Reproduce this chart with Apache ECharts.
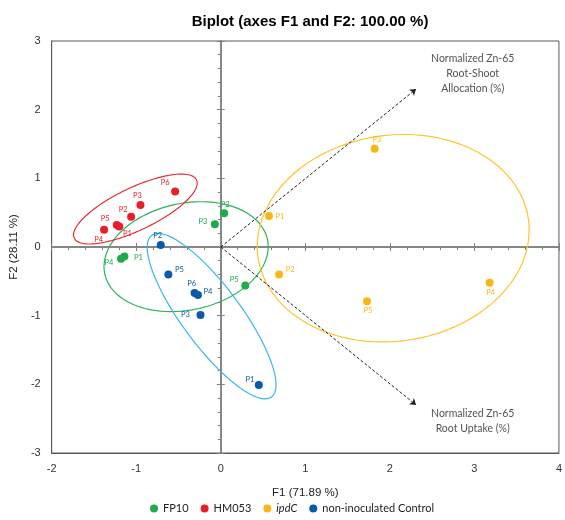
<!DOCTYPE html>
<html><head><meta charset="utf-8">
<script src="https://cdn.jsdelivr.net/npm/echarts@6/dist/echarts.min.js"></script>
<style>html,body{margin:0;padding:0;background:#fff}#c{width:565px;height:520px}</style>
</head><body><div id="c"></div>
<script>
// ---- data ----
const groups = ['FP10', 'HM053', 'ipdC', 'non-inoculated Control'];
// observations: [F1, F2, label]
const fp10 = [[-1.14, -0.14, 'P1'], [0.04, 0.49, 'P2'], [-0.07, 0.33, 'P3'], [-1.18, -0.17, 'P4'], [0.29, -0.56, 'P5']];
const hm053 = [[-1.20, 0.30, 'P1'], [-1.06, 0.44, 'P2'], [-0.95, 0.61, 'P3'], [-1.23, 0.32, 'P4'], [-1.38, 0.25, 'P5'], [-0.54, 0.81, 'P6']];
const ipdc = [[0.57, 0.45, 'P1'], [0.69, -0.40, 'P2'], [1.82, 1.43, 'P3'], [3.18, -0.52, 'P4'], [1.73, -0.79, 'P5']];
const control = [[0.45, -2.01, 'P1'], [-0.71, 0.03, 'P2'], [-0.24, -0.99, 'P3'], [-0.27, -0.70, 'P4'], [-0.62, -0.40, 'P5'], [-0.31, -0.67, 'P6']];
// confidence ellipses: [centerF1, centerF2, halfWidthF1, halfHeightF2, phaseDeg]
const ellFp10 = [-0.41, -0.141, 0.971, 0.80, 79.5];
const ellHm053 = [-1.01, 0.553, 0.732, 0.509, 42];
const ellIpdc = [2.04, 0.128, 1.608, 1.511, 85.5];
const ellControl = [-0.108, -1.007, 0.762, 1.205, 146.2];
// variable vectors (loadings)
const varNames = ['Normalized Zn-65\nRoot-Shoot\nAllocation (%)', 'Normalized Zn-65\nRoot Uptake (%)'];
const varVectors = [[2.31, 2.30], [2.31, -2.30]];
// axis ticks
const xTicks = { min: -2, max: 4, interval: 1 };
const yTicks = { min: -3, max: 3, interval: 1 };

// ---- styling (separate from data) ----
const colors = ['#1eab4b', '#e91f27', '#fdb515', '#0b5aa9'];
const ellColors = ['#2eb35b', '#ea2a33', '#fec42e', '#3cb5ea'];
const labelOffsets = [
  [[14, 1], [1, -9], [-12, -3], [-12, 4], [-11, -6]],
  [[8, 7], [-8, -7], [-3, -10], [-18, 15], [1, -11], [-10, -9]],
  [[11, 0], [11, -5], [2, -9], [1, 10], [1, 9]],
  [[-9, -5], [-3, -9], [-15, 0], [10, -3], [11, -5], [-3, -9]]
];
const varLabelAnchors = [[2.98, 2.53], [2.98, -2.53]];

const obs = [fp10, hm053, ipdc, control];
const ells = [ellFp10, ellHm053, ellIpdc, ellControl];

function ellipsePath(e) {
  const pts = [];
  for (let d = 0; d <= 360; d += 3) {
    const t = d * Math.PI / 180, p = e[4] * Math.PI / 180;
    pts.push([e[0] + e[2] * Math.cos(t), e[1] + e[3] * Math.cos(t + p)]);
  }
  return pts;
}

const FONT = 'Liberation Sans';
const CAL = 'Lato';
const series = [];
ells.forEach((e, i) => {
  series.push({
    type: 'line', name: 'ell' + i, data: ellipsePath(e), showSymbol: false, symbol: 'none',
    smooth: false, silent: true, z: 2,
    lineStyle: { color: ellColors[i], width: 1.2 }
  });
});
series.push({
  type: 'lines', coordinateSystem: 'cartesian2d', silent: true, z: 3,
  symbol: ['none', 'arrow'], symbolSize: 6,
  lineStyle: { color: '#222', width: 1, type: [3, 2], opacity: 1 },
  data: varVectors.map(v => ({ coords: [[0, 0], v] }))
});
series.push({
  type: 'scatter', name: 'vars', symbolSize: 0, silent: true, z: 3,
  data: varLabelAnchors.map((a, i) => ({ value: a, name: varNames[i] })),
  label: { show: true, position: 'inside', formatter: p => p.name, color: '#262626',
    fontFamily: CAL, fontSize: 10.5, lineHeight: 15, align: 'center' }
});
obs.forEach((arr, i) => {
  series.push({
    type: 'scatter', name: groups[i], symbolSize: 8, z: 5,
    itemStyle: { color: colors[i], opacity: 1 },
    data: arr.map((d, j) => ({ value: [d[0], d[1]], name: d[2], label: { offset: labelOffsets[i][j] } })),
    label: { show: true, position: 'inside', formatter: p => p.name, color: colors[i],
      fontFamily: CAL, fontSize: 7.5 }
  });
});

const zeroLine = { show: true, onZero: true, onZeroAxisIndex: 0, lineStyle: { color: '#7f7f7f', width: 1.5 } };
const boxLine = { show: true, onZero: false, lineStyle: { color: '#595959', width: 1 } };
const tickLabel = { color: '#333', fontFamily: FONT, fontSize: 11 };

const option = {
  animation: false,
  backgroundColor: '#fff',
  title: {
    text: 'Biplot (axes F1 and F2: 100.00 %)', left: 305, top: 9, textAlign: 'center',
    textStyle: { fontFamily: FONT, fontWeight: 'bold', fontSize: 15, color: '#000' }
  },
  legend: {
    data: groups, bottom: 1, left: 145, icon: 'circle', itemWidth: 8, itemHeight: 8, itemGap: 12,
    textStyle: { fontFamily: CAL, fontSize: 11, color: '#222', rich: { i: { fontStyle: 'italic', fontFamily: CAL, fontSize: 11, color: '#222' } } },
    formatter: n => n === 'ipdC' ? '{i|ipdC}' : n
  },
  grid: { left: 50, right: 5, top: 41, bottom: 67, show: true, borderColor: '#595959', borderWidth: 1, containLabel: false },
  xAxis: [
    { type: 'value', position: 'bottom', min: xTicks.min, max: xTicks.max, interval: xTicks.interval,
      axisLine: boxLine, axisTick: { show: false }, splitLine: { show: false },
      axisLabel: Object.assign({ margin: 10 }, tickLabel),
      name: 'F1 (71.89 %)', nameLocation: 'middle', nameGap: 34,
      nameTextStyle: { fontFamily: FONT, fontSize: 11.5, color: '#222' } },
    { type: 'value', position: 'bottom', min: xTicks.min, max: xTicks.max, interval: xTicks.interval,
      axisLine: zeroLine, axisLabel: { show: false }, splitLine: { show: false },
      axisTick: { show: true, length: 4, lineStyle: { color: '#7f7f7f' } },
      minorTick: { show: true, splitNumber: 5, length: 3, lineStyle: { color: '#7f7f7f' } } },
    { type: 'value', position: 'top', min: xTicks.min, max: xTicks.max, interval: xTicks.interval,
      axisLine: zeroLine, axisLabel: { show: false }, splitLine: { show: false },
      axisTick: { show: true, length: 4, lineStyle: { color: '#7f7f7f' } } }
  ],
  yAxis: [
    { type: 'value', position: 'left', min: yTicks.min, max: yTicks.max, interval: yTicks.interval,
      axisLine: boxLine, axisTick: { show: false }, splitLine: { show: false },
      axisLabel: Object.assign({ margin: 11 }, tickLabel),
      name: 'F2 (28.11 %)', nameLocation: 'middle', nameGap: 26,
      nameTextStyle: { fontFamily: FONT, fontSize: 11.5, color: '#222' } },
    { type: 'value', position: 'left', min: yTicks.min, max: yTicks.max, interval: yTicks.interval,
      axisLine: zeroLine, axisLabel: { show: false }, splitLine: { show: false },
      axisTick: { show: true, length: 4, lineStyle: { color: '#7f7f7f' } },
      minorTick: { show: true, splitNumber: 5, length: 3, lineStyle: { color: '#7f7f7f' } } },
    { type: 'value', position: 'right', min: yTicks.min, max: yTicks.max, interval: yTicks.interval,
      axisLine: zeroLine, axisLabel: { show: false }, splitLine: { show: false },
      axisTick: { show: true, length: 4, lineStyle: { color: '#7f7f7f' } } }
  ],
  series: series
};
const chart = echarts.init(document.getElementById('c'), null, { renderer: 'canvas' });
chart.setOption(option);
</script></body></html>
